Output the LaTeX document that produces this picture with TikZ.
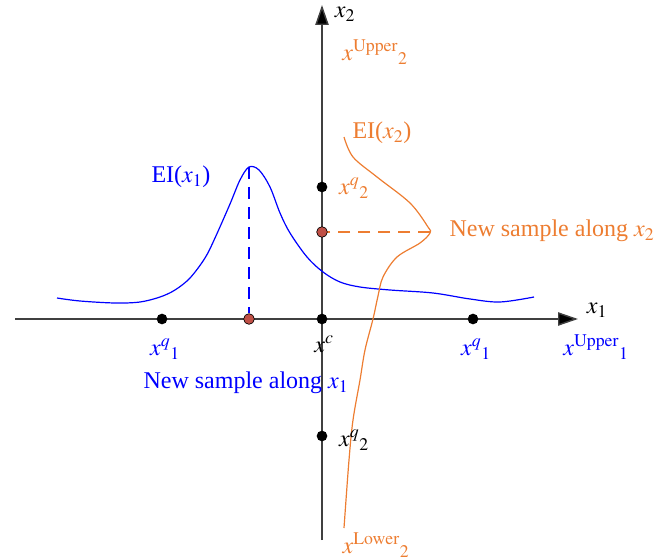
\documentclass[tikz,border=0pt]{standalone}
\usepackage{mathptmx}
\usepackage{fontspec}
\setmainfont{Liberation Serif}
\usetikzlibrary{arrows.meta}
\definecolor{eiblue}{RGB}{0,0,255}
\definecolor{eiorange}{RGB}{237,125,49}
\definecolor{newred}{RGB}{192,80,70}
\definecolor{axisgray}{RGB}{64,64,64}
\tikzset{
  axis/.style={draw=axisgray, line width=1.1pt, -{Triangle[length=15pt,width=10pt,fill=black]}},
  pt/.style={circle, fill=black, inner sep=0pt, minimum size=8pt},
  newpt/.style={circle, draw=black, fill=newred, line width=.5pt, inner sep=0pt, minimum size=8pt},
  lbl/.style={inner sep=0pt, font=\fontsize{18}{21}\selectfont}
}
\begin{document}
\begin{tikzpicture}[x=.75pt, y=-.75pt]
\useasboundingbox (0,0) rectangle (672,560);
  \coordinate (xl) at (15,319);
  \coordinate (xr) at (578,319);
  \coordinate (yb) at (322,540);
  \coordinate (yt) at (322,5);
  \draw[axis](xl)--(xr);
  \draw[axis](yb)--(yt);
\node[lbl] (x1) at (597,310){$x_1$};
\node[lbl] (x2) at (345,14){$x_2$};

\draw[eiblue, line width=.9pt] plot[smooth, tension=.55] coordinates {(57,298) (80,301) (115,303) (140,302) (160,297) (175,290) (190,278) (205,258) (215,238) (230,204) (240,180) (249,167) (259,170) (270,187) (280,213) (290,233) (307,257) (323,272) (340,282) (360,287) (390,290) (433,293) (470,299) (500,302) (534,297)};
\draw[eiorange, line width=.9pt] plot[smooth, tension=.55] coordinates {(344,137) (353,157) (377,177) (410,203) (428,227) (430,233) (420,243) (397,257) (383,277) (378,296) (373,319) (365,350) (360,380) (353,420) (349,460) (344,528)};

\node[pt] (xq1l) at (162,319){};
\node[pt] (xc) at (322,319){};
\node[pt] (xq1r) at (473,319){};
\node[newpt] (new1) at (249,319){};
\node[pt] (xq2u) at (322,187){};
\node[pt] (xq2d) at (322,436){};
\coordinate (peak1) at (249,167);
\coordinate (peak2) at (430,232);
\draw[eiblue, line width=1pt, dash pattern=on 9pt off 6pt](peak1)--(new1);
\draw[eiorange, line width=1pt, dash pattern=on 9pt off 6pt](peak2)--(322,232);
\node[newpt] (new2) at (322,232){};

\node[lbl, eiblue] (lq1l) at (165,349){$x^{q}{}_{1}$};
\node[lbl] (lc) at (324,344){$x^{c}$};
\node[lbl, eiblue] (lq1r) at (476,349){$x^{q}{}_{1}$};
\node[lbl, eiblue] (lup1) at (596,347){$x^{\mathrm{Upper}}{}_{1}$};
\node[lbl, eiblue] (new1txt) at (246,383){New sample along $x_1$};
\node[lbl, eiblue] (ei1) at (181,177){EI($x_1$)};

\node[lbl, eiorange] (lup2) at (375,52){$x^{\mathrm{Upper}}{}_{2}$};
\node[lbl, eiorange] (ei2) at (382,133){EI($x_2$)};
\node[lbl, eiorange] (lq2u) at (354,188){$x^{q}{}_{2}$};
\node[lbl, eiorange] (new2txt) at (552,231){New sample along $x_2$};
\node[lbl] (lq2d) at (354,440){$x^{q}{}_{2}$};
\node[lbl, eiorange] (llo2) at (376,545){$x^{\mathrm{Lower}}{}_{2}$};

\end{tikzpicture}
\end{document}
